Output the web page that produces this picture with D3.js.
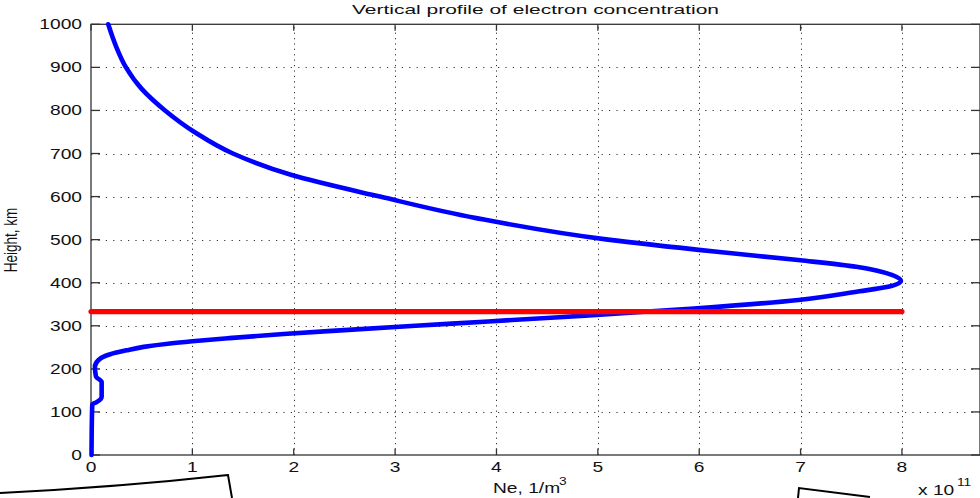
<!DOCTYPE html>
<html>
<head>
<meta charset="utf-8">
<script src="https://cdn.jsdelivr.net/npm/d3@7"></script>
<style>
  html, body { margin: 0; padding: 0; background: #fff; overflow: hidden; }
  svg { display: block; }
  text { font-family: "Liberation Sans", Arial, sans-serif; fill: #111; }
</style>
</head>
<body>
<svg id="chart" width="980" height="498"></svg>
<script>
// Electron concentration profile: height (km) vs Ne (units of 1e11 per m^3)
const heightKm = [0, 58, 118, 122, 135, 170, 182, 205, 220, 228, 234, 243, 251, 259, 264, 271, 281,
                  290, 300, 310, 320, 340, 360, 380, 390, 404, 418, 437, 452, 470, 500, 550, 600,
                  650, 700, 750, 800, 850, 900, 950, 1000];
const neProfile = [0.005, 0.007, 0.013, 0.05, 0.105, 0.105, 0.049, 0.039, 0.072, 0.12, 0.19, 0.35,
                   0.52, 0.78, 1.0, 1.35, 1.9, 2.5, 3.2, 3.92, 4.62, 5.95, 6.98, 7.58, 7.85, 7.99,
                   7.9, 7.55, 7.0, 6.25, 5.1, 3.8, 2.85, 1.98, 1.40, 1.02, 0.73, 0.50, 0.345,
                   0.245, 0.17];

// Horizontal reference level (red)
const levelKm = 333;
const levelNe = [0, 8];

// Axis ticks
const xTicks = [0, 1, 2, 3, 4, 5, 6, 7, 8];
const yTicks = [0, 100, 200, 300, 400, 500, 600, 700, 800, 900, 1000];
const xLimit = [0, 8.77];
const yLimit = [0, 1000];

const svg = d3.select("#chart");
const plotL = 91, plotR = 980, plotT = 24.3, plotB = 455;
const HSTRETCH = 1.37;

const x = d3.scaleLinear().domain(xLimit).range([plotL, plotR]);
const y = d3.scaleLinear().domain(yLimit).range([plotB, plotT]);

function stretch(sel, k) {
  sel.each(function () {
    const w = this.getComputedTextLength();
    d3.select(this).attr("textLength", w * k).attr("lengthAdjust", "spacingAndGlyphs");
  });
}
function fitWidth(sel, target) {
  sel.attr("textLength", target).attr("lengthAdjust", "spacingAndGlyphs");
}

// Grid (dotted)
const grid = svg.append("g").attr("stroke", "#333").attr("stroke-width", 1);
grid.selectAll("line.v").data(xTicks.filter(d => d > 0)).join("line")
  .attr("class", "v")
  .attr("x1", d => Math.round(x(d)) + 0.5).attr("x2", d => Math.round(x(d)) + 0.5)
  .attr("y1", plotB).attr("y2", plotT)
  .attr("stroke-dasharray", "1.2,4.2");
grid.selectAll("line.h").data(yTicks.filter(d => d > 0 && d < 1000)).join("line")
  .attr("class", "h")
  .attr("x1", plotL).attr("x2", plotR)
  .attr("y1", d => Math.round(y(d)) + 0.5).attr("y2", d => Math.round(y(d)) + 0.5)
  .attr("stroke-dasharray", "1.2,6.2");

// Frame and ticks
const frame = svg.append("g").attr("stroke", "#333").attr("stroke-width", 1.3).attr("fill", "none");
frame.append("rect").attr("x", plotL).attr("y", plotT).attr("width", plotR - plotL).attr("height", plotB - plotT);
frame.selectAll("line.yl").data(yTicks).join("line").attr("class", "yl")
  .attr("x1", plotL).attr("x2", plotL + 9).attr("y1", d => y(d)).attr("y2", d => y(d));
frame.selectAll("line.yr").data(yTicks).join("line").attr("class", "yr")
  .attr("x1", plotR - 9).attr("x2", plotR).attr("y1", d => y(d)).attr("y2", d => y(d));
frame.selectAll("line.xb").data(xTicks).join("line").attr("class", "xb")
  .attr("x1", d => x(d)).attr("x2", d => x(d)).attr("y1", plotB).attr("y2", plotB - 6.5);
frame.selectAll("line.xt").data(xTicks).join("line").attr("class", "xt")
  .attr("x1", d => x(d)).attr("x2", d => x(d)).attr("y1", plotT).attr("y2", plotT + 6.5);

// Tick labels
svg.append("g").selectAll("text").data(yTicks).join("text")
  .attr("x", 82).attr("y", d => y(d) + 5)
  .attr("text-anchor", "end").attr("font-size", 14)
  .text(d => d)
  .call(stretch, HSTRETCH);
svg.append("g").selectAll("text").data(xTicks).join("text")
  .attr("x", d => x(d)).attr("y", 472)
  .attr("text-anchor", "middle").attr("font-size", 14)
  .text(d => d)
  .call(stretch, HSTRETCH);

// Profile curve
const line = d3.line()
  .x((d, i) => x(neProfile[i]))
  .y(d => y(d))
  .curve(d3.curveMonotoneY);
svg.append("path")
  .attr("d", line(heightKm))
  .attr("fill", "none").attr("stroke", "#0000ff")
  .attr("stroke-width", 4.6).attr("stroke-linejoin", "round").attr("stroke-linecap", "round");

// Reference level
svg.append("line")
  .attr("x1", x(levelNe[0])).attr("x2", x(levelNe[1]))
  .attr("y1", y(levelKm)).attr("y2", y(levelKm))
  .attr("stroke", "#ff0000").attr("stroke-width", 5.2).attr("stroke-linecap", "round");

// Title and labels
svg.append("text")
  .attr("x", (plotL + plotR) / 2).attr("y", 13.5)
  .attr("text-anchor", "middle").attr("font-size", 13)
  .text("Vertical profile of electron concentration")
  .call(fitWidth, 367);

svg.append("text")
  .attr("transform", `translate(17,240) scale(${HSTRETCH},1) rotate(-90)`)
  .attr("text-anchor", "middle").attr("font-size", 13.5)
  .text("Height, km");

svg.append("text")
  .attr("x", 493).attr("y", 493).attr("font-size", 14)
  .text("Ne, 1/m")
  .call(stretch, HSTRETCH);
svg.append("text")
  .attr("x", 559).attr("y", 485).attr("font-size", 10)
  .text("3")
  .call(stretch, HSTRETCH);

svg.append("text")
  .attr("x", 918).attr("y", 495).attr("font-size", 14)
  .text("x 10")
  .call(stretch, HSTRETCH);
svg.append("text")
  .attr("x", 957).attr("y", 486).attr("font-size", 10)
  .text("11")
  .call(stretch, HSTRETCH);

// Page outline strokes along the lower edge
const outline = svg.append("g").attr("fill", "none").attr("stroke", "#000").attr("stroke-width", 2);
outline.append("path").attr("d", "M0,493 Q120,487 228,475 L232,498");
outline.append("path").attr("d", "M798,498 L799,488 L870,497");
</script>
</body>
</html>
